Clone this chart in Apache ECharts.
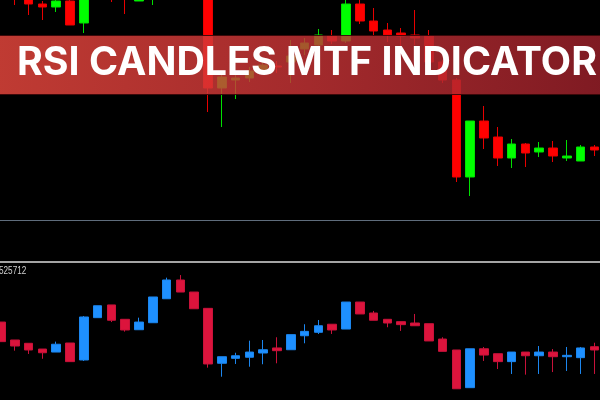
<!DOCTYPE html>
<html>
<head>
<meta charset="utf-8">
<script src="https://cdn.jsdelivr.net/npm/echarts@6/dist/echarts.min.js"></script>
<style>
html,body{margin:0;padding:0;background:#000;}
#c{width:600px;height:400px;}
</style>
</head>
<body>
<div id="c"></div>
<script>
// bar slots (44 bars)
var bars = ['1','2','3','4','5','6','7','8','9','10','11','12','13','14','15','16','17','18','19','20','21','22',
            '23','24','25','26','27','28','29','30','31','32','33','34','35','36','37','38','39','40','41','42','43','44'];

// price pane (arbitrary price units)
var priceOpen  = [250,228,225,216,213,219,197,226,232,230,219,224,232,245,238,224,132,140,142,150,154,158,171,175,184,179,216,199,190,187,185,184,158,140, 43, 99, 83, 62, 76, 68, 72, 62, 59, 73];
var priceClose = [230,222,216,213,219,195,223,236,226,222,226,232,245,238,225,132,143,142,149,155,153,164,177,185,179,216,199,189,185,184,182,158,140, 43, 99, 82, 62, 76, 67, 72, 64, 64, 73, 70];
var priceLow   = [225,215,205,200,208,195,187,223,218,206,219,215,228,234,222,108, 93,121,138,146,147,137,165,172,176,177,196,185,178,165,175,153,137, 38, 24, 71, 54, 52, 53, 63, 58, 59, 59, 64];
var priceHigh  = [255,232,228,219,221,221,226,238,234,234,230,235,248,250,240,226,148,150,153,160,159,180,182,191,190,220,220,212,197,192,210,190,160,142, 99,114, 93, 81, 77, 78, 79, 80, 75, 75];

// RSI candles pane (0-100)
var rsiOpen  = [56.9,43.8,41.4,37.2,35.0,41.6,29.2,60.1,69.4,58.9,51.3,56.4,73.9,87.6,78.8,66.9,26.8,30.4,31.2,34.3,38.0,36.7,46.9,49.4,55.3,51.8,71.5,63.5,58.9,57.2,56.2,55.7,44.5,36.5, 9.0,37.4,33.8,28.0,35.0,32.3,35.0,31.6,30.9,38.9];
var rsiClose = [42.6,39.4,36.5,34.5,40.7,28.0,60.6,68.8,58.2,51.1,56.9,75.2,87.6,78.8,66.6,26.3,31.6,32.3,35.0,36.7,36.0,47.7,50.1,54.2,51.1,71.5,62.8,58.2,56.2,55.0,54.2,43.1,35.5, 8.2,37.4,32.8,28.0,35.0,32.3,35.0,31.6,32.6,38.0,36.5];
var rsiLow   = [42.6,36.0,33.6,30.1,35.0,28.0,28.5,60.1,56.9,49.9,51.3,56.4,73.9,78.8,66.6,23.6,17.0,26.3,24.3,26.1,26.8,36.7,41.4,48.2,48.2,51.8,62.8,58.2,53.1,50.4,54.2,43.1,35.5, 8.2, 9.0,28.5,22.6,19.0,18.5,19.0,20.4,21.2,19.0,19.0];
var rsiHigh  = [56.9,43.8,41.4,37.2,42.6,41.6,61.3,68.8,69.4,58.9,60.1,75.2,89.3,91.2,78.8,66.9,31.6,34.5,43.3,43.8,45.8,47.7,55.3,58.4,55.3,71.5,71.5,65.0,58.9,57.2,62.8,55.7,45.8,36.5,37.4,38.7,33.8,35.0,35.0,39.4,37.2,38.7,38.7,41.8];

var indicatorLabel = '525712';
var bannerTitle = 'RSI CANDLES MTF INDICATOR';

function ohlc(o, c, l, h) {
  return o.map(function (v, i) { return [v, c[i], l[i], h[i]]; });
}

var chart = echarts.init(document.getElementById('c'), null, {renderer: 'canvas'});
chart.setOption({
  backgroundColor: '#000000',
  animation: false,
  grid: [
    {left: -5.9, width: 607.2, top: 0, height: 220, outerBoundsMode: 'none', containLabel: false},
    {left: -5.9, width: 607.2, top: 263, height: 137, outerBoundsMode: 'none', containLabel: false}
  ],
  xAxis: [
    {type: 'category', data: bars, gridIndex: 0, boundaryGap: true,
     axisLine: {show: true, onZero: false, lineStyle: {color: '#5f6d7c', width: 1}},
     axisTick: {show: false}, axisLabel: {show: false}, splitLine: {show: false}},
    {type: 'category', data: bars, gridIndex: 1, boundaryGap: true, position: 'top', offset: 1,
     axisLine: {show: true, onZero: false, lineStyle: {color: '#a4a4a4', width: 2}},
     axisTick: {show: false}, axisLabel: {show: false}, splitLine: {show: false}}
  ],
  yAxis: [
    {type: 'value', gridIndex: 0, min: 0, max: 220, show: false, splitLine: {show: false}},
    {type: 'value', gridIndex: 1, min: 0, max: 100, show: false, splitLine: {show: false}}
  ],
  series: [
    {type: 'candlestick', xAxisIndex: 0, yAxisIndex: 0, barWidth: 9, clip: true,
     data: ohlc(priceOpen, priceClose, priceLow, priceHigh),
     itemStyle: {color: '#00ff00', color0: '#ff0000', borderColor: '#00e000', borderColor0: '#e80000', borderWidth: 1}},
    {type: 'candlestick', xAxisIndex: 1, yAxisIndex: 1, barWidth: 9, clip: true,
     data: ohlc(rsiOpen, rsiClose, rsiLow, rsiHigh),
     itemStyle: {color: '#1e90ff', color0: '#dc143c', borderColor: '#1c86ee', borderColor0: '#c8123a', borderWidth: 1}}
  ],
  graphic: [
    {type: 'text', x: -1, y: 266, scaleX: 0.78, z: 50,
     style: {text: indicatorLabel, fill: '#d0d0d0', font: '10.5px "Liberation Sans", sans-serif', textVerticalAlign: 'top'}},
    {type: 'rect', z: 100, shape: {x: -2, y: 35.5, width: 604, height: 59},
     style: {
       fill: new echarts.graphic.LinearGradient(0, 0, 1, 0, [
         {offset: 0, color: 'rgba(234,72,62,0.82)'},
         {offset: 0.5, color: 'rgba(200,52,54,0.82)'},
         {offset: 1, color: 'rgba(155,32,42,0.82)'}
       ]),
       stroke: 'rgba(60,8,10,0.95)', lineWidth: 1}},
    {type: 'text', z: 101, x: 17, y: 63, scaleX: 1.009,
     style: {text: bannerTitle, fill: '#ffffff', font: '700 39px Inter, "Open Sans", sans-serif',
             textAlign: 'left', textVerticalAlign: 'middle'}}
  ]
});
</script>
</body>
</html>
